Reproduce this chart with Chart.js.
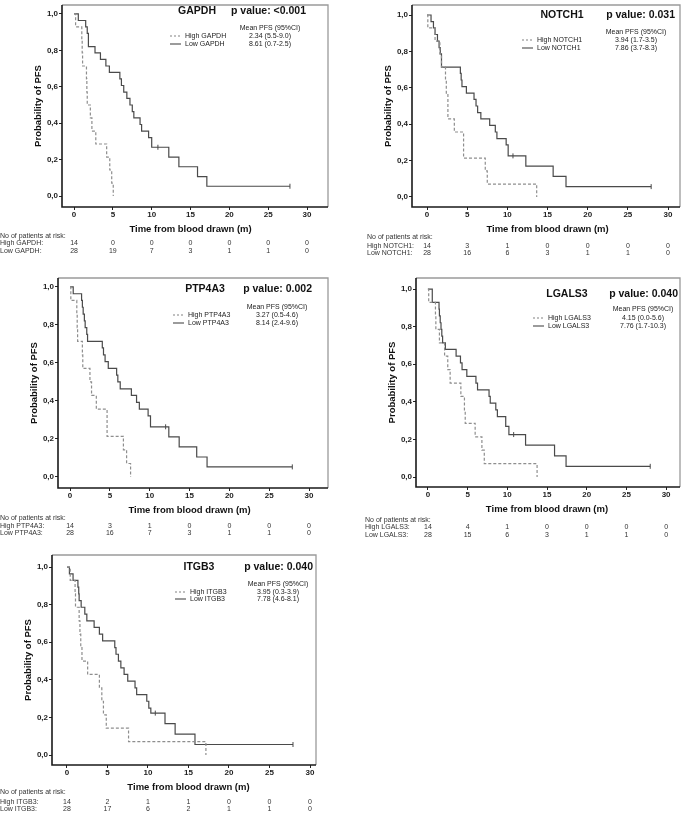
<!DOCTYPE html>
<html>
<head>
<meta charset="utf-8">
<script src="https://cdn.jsdelivr.net/npm/chart.js@4.4.1/dist/chart.umd.min.js"></script>
<style>
  body { margin: 0; background: #fff; }
  #wrap { position: relative; width: 685px; height: 815px; }
  #wrap canvas { position: absolute; left: 0; top: 0; }
</style>
</head>
<body>
<div id="wrap">
  <canvas id="c1" width="685" height="815"></canvas>
  <canvas id="c2" width="685" height="815"></canvas>
  <canvas id="c3" width="685" height="815"></canvas>
  <canvas id="c4" width="685" height="815"></canvas>
  <canvas id="c5" width="685" height="815"></canvas>
</div>
<script>
const xTicks = [0, 5, 10, 15, 20, 25, 30];
const yTicks = [0, 0.2, 0.4, 0.6, 0.8, 1];

// GAPDH
const gapdhHighT = [0, 0.2, 1.0, 1.05, 1.1, 1.6, 1.65, 1.7, 2.1, 2.3, 2.8, 4.2, 4.6, 4.85, 5.05];
const gapdhHighS = [1, 0.929, 0.857, 0.786, 0.714, 0.643, 0.571, 0.5, 0.429, 0.357, 0.286, 0.214, 0.143, 0.071, 0];
const gapdhLowT = [0, 0.55, 1.5, 1.7, 1.85, 2.7, 3.4, 4.1, 4.55, 5.9, 6.1, 6.4, 6.8, 7.2, 7.5, 7.7, 8.5, 8.7, 9.6, 10.0, 12.2, 13.5, 15.9, 17.1, 27.8];
const gapdhLowS = [1, 0.964, 0.929, 0.893, 0.821, 0.786, 0.75, 0.714, 0.679, 0.643, 0.607, 0.571, 0.536, 0.5, 0.464, 0.429, 0.393, 0.357, 0.321, 0.268, 0.214, 0.161, 0.107, 0.054, 0.054];
const gapdhCensT = [10.8, 27.8];
const gapdhCensS = [0.268, 0.054];
const gapdhRiskHigh = [14, 0, 0, 0, 0, 0, 0];
const gapdhRiskLow = [28, 19, 7, 3, 1, 1, 0];

// NOTCH1
const notchHighT = [0, 0.1, 1.0, 1.6, 1.8, 2.3, 2.4, 2.6, 3.4, 4.55, 7.25, 7.5, 13.65];
const notchHighS = [1, 0.929, 0.857, 0.786, 0.714, 0.643, 0.571, 0.429, 0.357, 0.214, 0.143, 0.071, 0];
const notchLowT = [0, 0.5, 0.8, 1.0, 1.3, 1.5, 1.65, 1.8, 4.15, 4.25, 4.35, 4.9, 5.85, 6.1, 6.3, 6.7, 7.8, 8.5, 8.7, 9.85, 10.1, 12.3, 15.7, 17.3, 27.9];
const notchLowS = [1, 0.964, 0.929, 0.893, 0.857, 0.821, 0.786, 0.714, 0.679, 0.643, 0.607, 0.571, 0.536, 0.5, 0.464, 0.429, 0.393, 0.357, 0.321, 0.286, 0.226, 0.17, 0.113, 0.057, 0.057];
const notchCensT = [10.7, 27.9];
const notchCensS = [0.226, 0.057];
const notchRiskHigh = [14, 3, 1, 0, 0, 0, 0];
const notchRiskLow = [28, 16, 6, 3, 1, 1, 0];

// PTP4A3
const ptpHighT = [0, 0.1, 0.85, 0.9, 0.95, 1.55, 1.6, 2.5, 2.7, 3.3, 4.65, 6.7, 7.1, 7.6];
const ptpHighS = [1, 0.929, 0.857, 0.786, 0.714, 0.643, 0.571, 0.5, 0.429, 0.357, 0.214, 0.143, 0.071, 0];
const ptpLowT = [0, 0.4, 1.45, 1.55, 1.65, 1.8, 1.9, 2.1, 2.2, 4.05, 4.2, 4.4, 4.8, 5.85, 6.0, 6.3, 7.7, 8.35, 8.7, 9.8, 10.1, 12.4, 13.7, 15.9, 17.2, 27.9];
const ptpLowS = [1, 0.964, 0.929, 0.893, 0.857, 0.821, 0.786, 0.75, 0.714, 0.679, 0.643, 0.607, 0.571, 0.536, 0.5, 0.464, 0.429, 0.393, 0.357, 0.321, 0.264, 0.211, 0.158, 0.105, 0.053, 0.053];
const ptpCensT = [12.0, 27.9];
const ptpCensS = [0.264, 0.053];
const ptpRiskHigh = [14, 3, 1, 0, 0, 0, 0];
const ptpRiskLow = [28, 16, 7, 3, 1, 1, 0];

// LGALS3
const lgalsHighT = [0, 0.1, 0.95, 1.0, 1.45, 2.1, 2.5, 2.8, 4.15, 4.6, 4.7, 5.95, 6.8, 7.1, 13.75];
const lgalsHighS = [1, 0.929, 0.857, 0.786, 0.714, 0.643, 0.571, 0.5, 0.429, 0.357, 0.286, 0.214, 0.143, 0.071, 0];
const lgalsLowT = [0, 0.55, 1.4, 1.45, 1.55, 1.65, 1.75, 1.85, 2.2, 3.55, 4.1, 4.3, 4.9, 6.05, 6.25, 7.7, 7.85, 8.55, 8.75, 9.8, 10.2, 12.3, 15.95, 17.4, 28.0];
const lgalsLowS = [1, 0.929, 0.893, 0.857, 0.821, 0.786, 0.75, 0.714, 0.679, 0.643, 0.607, 0.571, 0.536, 0.5, 0.464, 0.429, 0.393, 0.357, 0.321, 0.27, 0.226, 0.17, 0.113, 0.057, 0.057];
const lgalsCensT = [10.8, 28.0];
const lgalsCensS = [0.226, 0.057];
const lgalsRiskHigh = [14, 4, 1, 0, 0, 0, 0];
const lgalsRiskLow = [28, 15, 6, 3, 1, 1, 0];

// ITGB3
const itgbHighT = [0, 0.4, 1.0, 1.05, 1.5, 1.6, 1.7, 1.85, 2.55, 4.0, 4.3, 4.5, 4.85, 7.6, 17.15];
const itgbHighS = [1, 0.929, 0.857, 0.786, 0.714, 0.643, 0.571, 0.5, 0.429, 0.357, 0.286, 0.214, 0.143, 0.071, 0];
const itgbLowT = [0, 0.3, 0.75, 1.35, 1.45, 1.5, 1.75, 2.2, 2.45, 3.35, 4.0, 4.4, 5.9, 6.05, 6.35, 6.65, 7.05, 7.5, 8.4, 8.6, 9.85, 10.1, 10.35, 12.1, 13.35, 15.8, 27.9];
const itgbLowS = [1, 0.964, 0.929, 0.893, 0.857, 0.821, 0.786, 0.75, 0.714, 0.679, 0.643, 0.607, 0.571, 0.536, 0.5, 0.464, 0.429, 0.393, 0.357, 0.321, 0.286, 0.25, 0.223, 0.167, 0.111, 0.056, 0.056];
const itgbCensT = [10.9, 27.9];
const itgbCensS = [0.223, 0.056];
const itgbRiskHigh = [14, 2, 1, 1, 0, 0, 0];
const itgbRiskLow = [28, 17, 6, 2, 1, 1, 0];

const FONT = '"Liberation Sans", Arial, sans-serif';
const DASH_COL = '#8e8e8e';
const SOLID_COL = '#4a4a4a';

const panels = [
  { id: 'c1', gene: 'GAPDH', p: 'p value: <0.001', mean: ['2.34 (5.5-9.0)', '8.61 (0.7-2.5)'],
    highT: gapdhHighT, highS: gapdhHighS, lowT: gapdhLowT, lowS: gapdhLowS, censT: gapdhCensT, censS: gapdhCensS,
    riskHigh: gapdhRiskHigh, riskLow: gapdhRiskLow,
    box: [62, 3, 328, 207], xr: [-1.55, 32.7], yr: [-0.06, 1.049],
    titleY: 11, geneX: 197, pRight: 306, legX: 270, legY: 28, dashX: 170, rowY: [36, 44], riskX: 0, riskY: [236, 243, 251] },
  { id: 'c2', gene: 'NOTCH1', p: 'p value: 0.031', mean: ['3.94 (1.7-3.5)', '7.86 (3.7-8.3)'],
    highT: notchHighT, highS: notchHighS, lowT: notchLowT, lowS: notchLowS, censT: notchCensT, censS: notchCensS,
    riskHigh: notchRiskHigh, riskLow: notchRiskLow,
    box: [412, 5, 680, 207], xr: [-1.87, 31.49], yr: [-0.055, 1.055],
    titleY: 15, geneX: 562, pRight: 675, legX: 636, legY: 32, dashX: 522, rowY: [40, 48], riskX: 367, riskY: [237, 246, 253] },
  { id: 'c3', gene: 'PTP4A3', p: 'p value: 0.002', mean: ['3.27 (0.5-4.6)', '8.14 (2.4-9.6)'],
    highT: ptpHighT, highS: ptpHighS, lowT: ptpLowT, lowS: ptpLowS, censT: ptpCensT, censS: ptpCensS,
    riskHigh: ptpRiskHigh, riskLow: ptpRiskLow,
    box: [58, 278, 328, 488], xr: [-1.51, 32.38], yr: [-0.058, 1.047],
    titleY: 289, geneX: 205, pRight: 312, legX: 277, legY: 307, dashX: 173, rowY: [315, 323], riskX: 0, riskY: [518, 526, 533] },
  { id: 'c4', gene: 'LGALS3', p: 'p value: 0.040', mean: ['4.15 (0.0-5.6)', '7.76 (1.7-10.3)'],
    highT: lgalsHighT, highS: lgalsHighS, lowT: lgalsLowT, lowS: lgalsLowS, censT: lgalsCensT, censS: lgalsCensS,
    riskHigh: lgalsRiskHigh, riskLow: lgalsRiskLow,
    box: [416, 278, 682, 487], xr: [-1.5, 31.75], yr: [-0.053, 1.059],
    titleY: 294, geneX: 567, pRight: 678, legX: 643, legY: 309, dashX: 533, rowY: [318, 326], riskX: 365, riskY: [520, 527, 535] },
  { id: 'c5', gene: 'ITGB3', p: 'p value: 0.040', mean: ['3.95 (0.3-3.9)', '7.78 (4.6-8.1)'],
    highT: itgbHighT, highS: itgbHighS, lowT: itgbLowT, lowS: itgbLowS, censT: itgbCensT, censS: itgbCensS,
    riskHigh: itgbRiskHigh, riskLow: itgbRiskLow,
    box: [52, 555, 316, 765], xr: [-1.85, 30.74], yr: [-0.053, 1.064],
    titleY: 567, geneX: 199, pRight: 313, legX: 278, legY: 584, dashX: 175, rowY: [592, 599], riskX: 0, riskY: [792, 802, 809] }
];

// frame, titles, legend and risk table
const kmText = {
  id: 'kmText',
  afterDraw(chart, args, o) {
    const ctx = chart.ctx, a = chart.chartArea, xs = chart.scales.x;
    ctx.save();
    // light top/right edges, dark axis lines left/bottom
    ctx.strokeStyle = '#9a9a9a';
    ctx.lineWidth = 1.3;
    ctx.beginPath();
    ctx.moveTo(a.left, a.top); ctx.lineTo(a.right, a.top); ctx.lineTo(a.right, a.bottom);
    ctx.stroke();
    ctx.strokeStyle = '#1a1a1a';
    ctx.lineWidth = 1.6;
    ctx.beginPath();
    ctx.moveTo(a.left, a.top); ctx.lineTo(a.left, a.bottom); ctx.lineTo(a.right, a.bottom);
    ctx.stroke();

    ctx.fillStyle = '#111';
    ctx.textBaseline = 'middle';
    ctx.font = 'bold 10.5px ' + FONT;
    ctx.textAlign = 'center';
    ctx.fillText(o.gene, o.geneX, o.titleY);
    ctx.textAlign = 'right';
    ctx.fillText(o.p, o.pRight, o.titleY);

    ctx.font = 'bold 9.5px ' + FONT;
    ctx.textAlign = 'center';
    ctx.fillText('Time from blood drawn (m)', xs.getPixelForValue(15), a.bottom + 22);
    ctx.save();
    ctx.translate(a.left - 24, (a.top + a.bottom) / 2);
    ctx.rotate(-Math.PI / 2);
    ctx.fillText('Probability of PFS', 0, 0);
    ctx.restore();

    // legend
    ctx.font = '7px ' + FONT;
    ctx.fillStyle = '#222';
    ctx.textAlign = 'center';
    ctx.fillText('Mean PFS (95%CI)', o.legX, o.legY);
    ctx.fillText(o.mean[0], o.legX, o.rowY[0]);
    ctx.fillText(o.mean[1], o.legX, o.rowY[1]);
    ctx.textAlign = 'left';
    ctx.fillText('High ' + o.gene, o.dashX + 15, o.rowY[0]);
    ctx.fillText('Low ' + o.gene, o.dashX + 15, o.rowY[1]);
    ctx.lineWidth = 1.1;
    ctx.strokeStyle = DASH_COL;
    ctx.setLineDash([2, 2]);
    ctx.beginPath();
    ctx.moveTo(o.dashX, o.rowY[0]); ctx.lineTo(o.dashX + 11, o.rowY[0]);
    ctx.stroke();
    ctx.setLineDash([]);
    ctx.strokeStyle = SOLID_COL;
    ctx.beginPath();
    ctx.moveTo(o.dashX, o.rowY[1]); ctx.lineTo(o.dashX + 11, o.rowY[1]);
    ctx.stroke();

    // risk table
    ctx.fillStyle = '#333';
    ctx.textAlign = 'left';
    ctx.fillText('No of patients at risk:', o.riskX, o.riskY[0]);
    ctx.fillText('High ' + o.gene + ':', o.riskX, o.riskY[1]);
    ctx.fillText('Low ' + o.gene + ':', o.riskX, o.riskY[2]);
    ctx.textAlign = 'center';
    xTicks.forEach((t, i) => {
      const px = xs.getPixelForValue(t);
      ctx.fillText(String(o.riskHigh[i]), px, o.riskY[1]);
      ctx.fillText(String(o.riskLow[i]), px, o.riskY[2]);
    });
    ctx.restore();
  }
};

const pts = (T, S) => T.map((t, i) => ({ x: t, y: S[i] }));

panels.forEach(p => {
  const [L, T, R, B] = p.box;
  new Chart(document.getElementById(p.id), {
    type: 'line',
    data: {
      datasets: [
        { label: 'High ' + p.gene, data: pts(p.highT, p.highS), stepped: true,
          borderColor: DASH_COL, borderWidth: 1.2, borderDash: [3, 2], pointRadius: 0, fill: false },
        { label: 'Low ' + p.gene, data: pts(p.lowT, p.lowS), stepped: true,
          borderColor: SOLID_COL, borderWidth: 1.2, pointRadius: 0, fill: false },
        { label: 'censored', data: pts(p.censT, p.censS), showLine: false,
          pointStyle: 'line', rotation: 90, pointRadius: 2.5, borderColor: SOLID_COL, borderWidth: 1 }
      ]
    },
    options: {
      responsive: false,
      animation: false,
      events: [],
      layout: { padding: { left: L - 20, top: T, right: 685 - R, bottom: 815 - B - 15 } },
      plugins: { legend: { display: false }, tooltip: { enabled: false }, kmText: p },
      scales: {
        x: {
          type: 'linear', min: p.xr[0], max: p.xr[1],
          afterBuildTicks: s => { s.ticks = xTicks.map(v => ({ value: v })); },
          afterFit: s => { s.height = 15; s.paddingLeft = 0; s.paddingRight = 0; },
          grid: { drawOnChartArea: false, drawTicks: true, tickLength: 3, color: '#222' },
          border: { display: false },
          ticks: { padding: 0, maxRotation: 0, color: '#222', font: { family: FONT, size: 8, weight: 'bold' } }
        },
        y: {
          min: p.yr[0], max: p.yr[1],
          afterBuildTicks: s => { s.ticks = yTicks.map(v => ({ value: v })); },
          afterFit: s => { s.width = 20; s.paddingTop = 0; s.paddingBottom = 0; },
          grid: { drawOnChartArea: false, drawTicks: true, tickLength: 3, color: '#222' },
          border: { display: false },
          ticks: { padding: 1, color: '#222', font: { family: FONT, size: 8, weight: 'bold' },
            callback: v => v.toFixed(1).replace('.', ',') }
        }
      }
    },
    plugins: [kmText]
  });
});
</script>
</body>
</html>
